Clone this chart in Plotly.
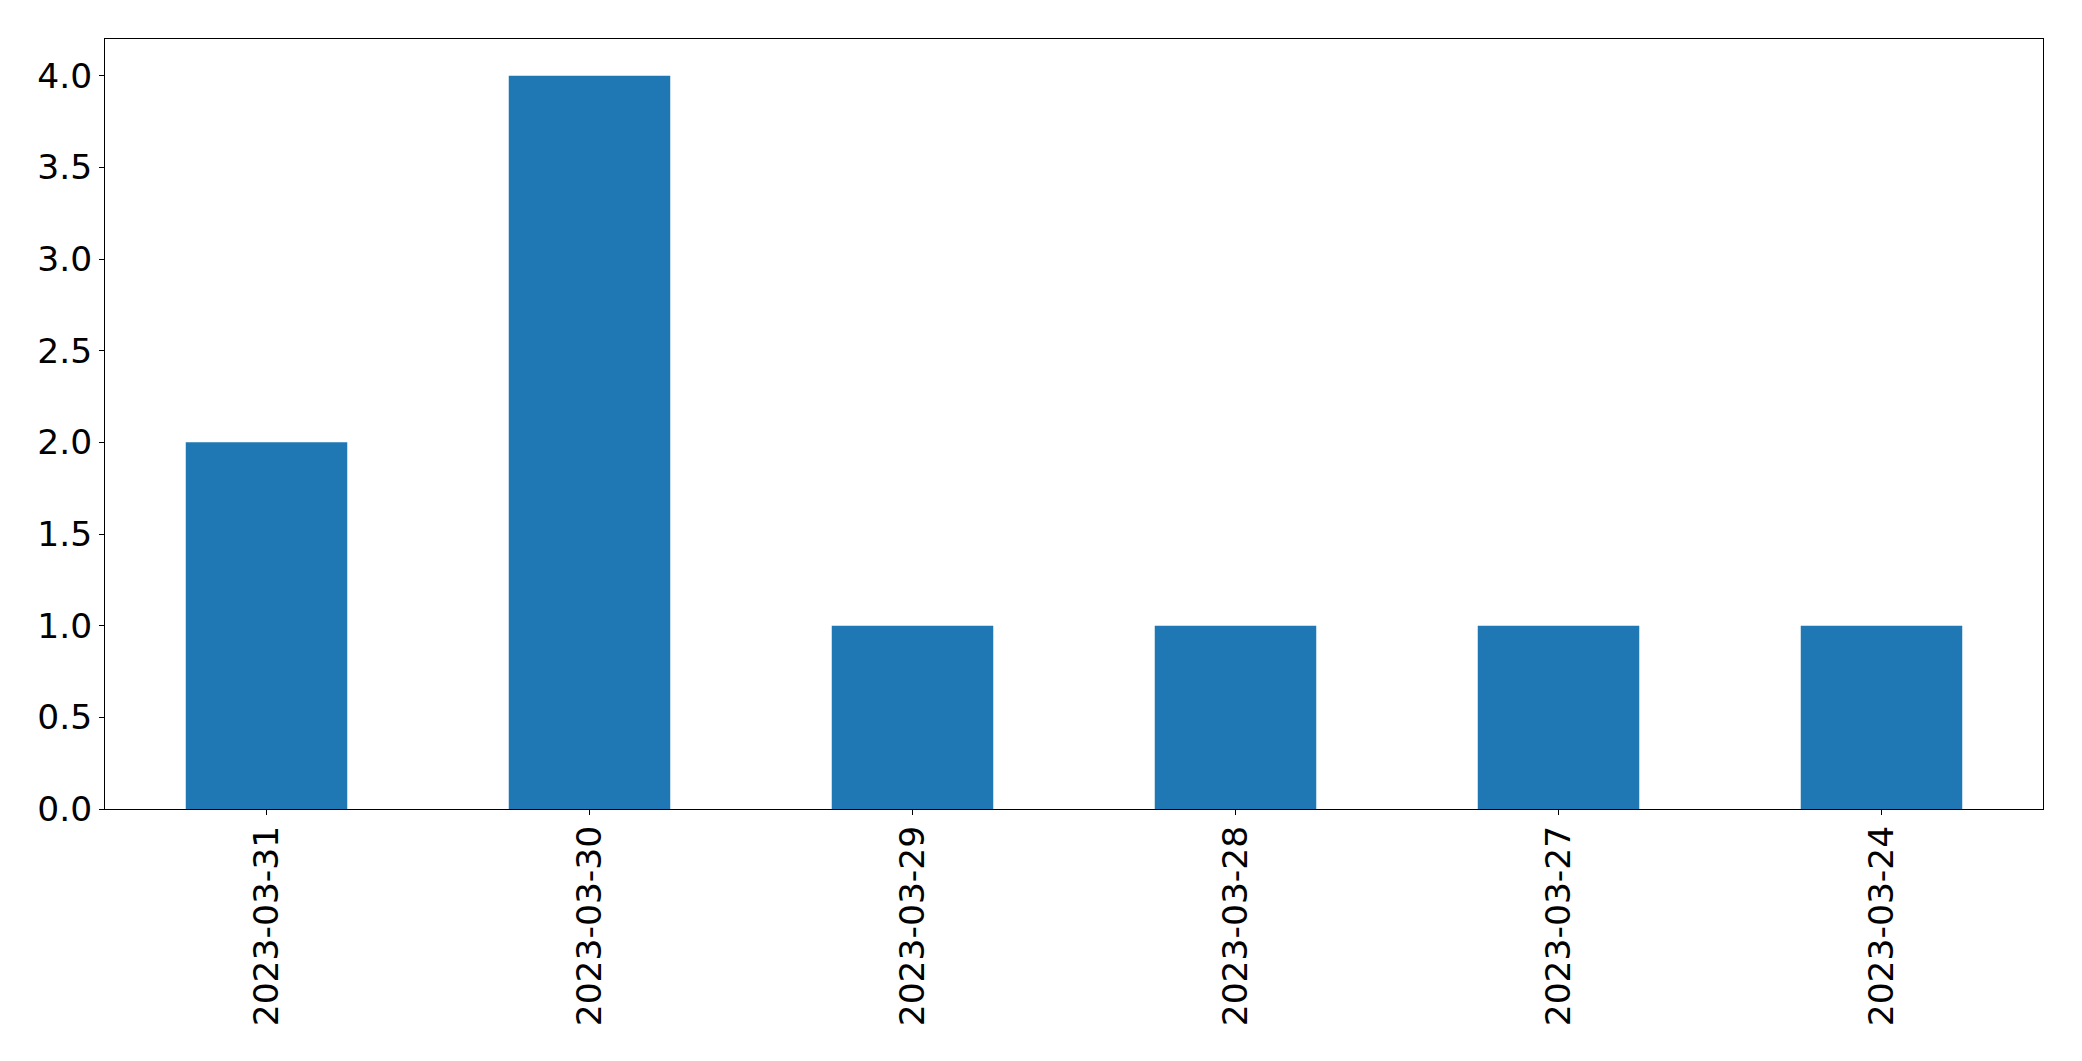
import plotly.graph_objects as go

dates = ["2023-03-31", "2023-03-30", "2023-03-29", "2023-03-28", "2023-03-27", "2023-03-24"]
counts = [2, 4, 1, 1, 1, 1]
y_ticks = [0.0, 0.5, 1.0, 1.5, 2.0, 2.5, 3.0, 3.5, 4.0]
y_tick_labels = ["0.0", "0.5", "1.0", "1.5", "2.0", "2.5", "3.0", "3.5", "4.0"]

fig = go.Figure(go.Bar(x=dates, y=counts, width=0.5, marker=dict(color="#1f77b4", line=dict(width=0))))

font = dict(family="DejaVu Sans", size=34.5, color="black")
fig.update_layout(
    width=2082, height=1061,
    margin=dict(l=105, r=39, t=39, b=252),
    paper_bgcolor="white", plot_bgcolor="white",
    showlegend=False,
    font=font,
)
fig.update_xaxes(
    type="category", range=[-0.5, 5.5], tickangle=-90,
    showline=True, linecolor="black", linewidth=1, mirror=True,
    ticks="outside", ticklen=5, tickwidth=1, tickcolor="black",
    ticklabelstandoff=-3,
    showgrid=False, zeroline=False, tickfont=font,
)
fig.update_yaxes(
    range=[0, 4.2], tickvals=y_ticks, ticktext=y_tick_labels,
    showline=True, linecolor="black", linewidth=1, mirror=True,
    ticks="outside", ticklen=5, tickwidth=1, tickcolor="black",
    showgrid=False, zeroline=False, tickfont=font,
)
fig.write_html(
    "out.html",
    config={"displayModeBar": False},
    post_script="document.body.style.margin='0';document.body.style.overflow='hidden';",
)
